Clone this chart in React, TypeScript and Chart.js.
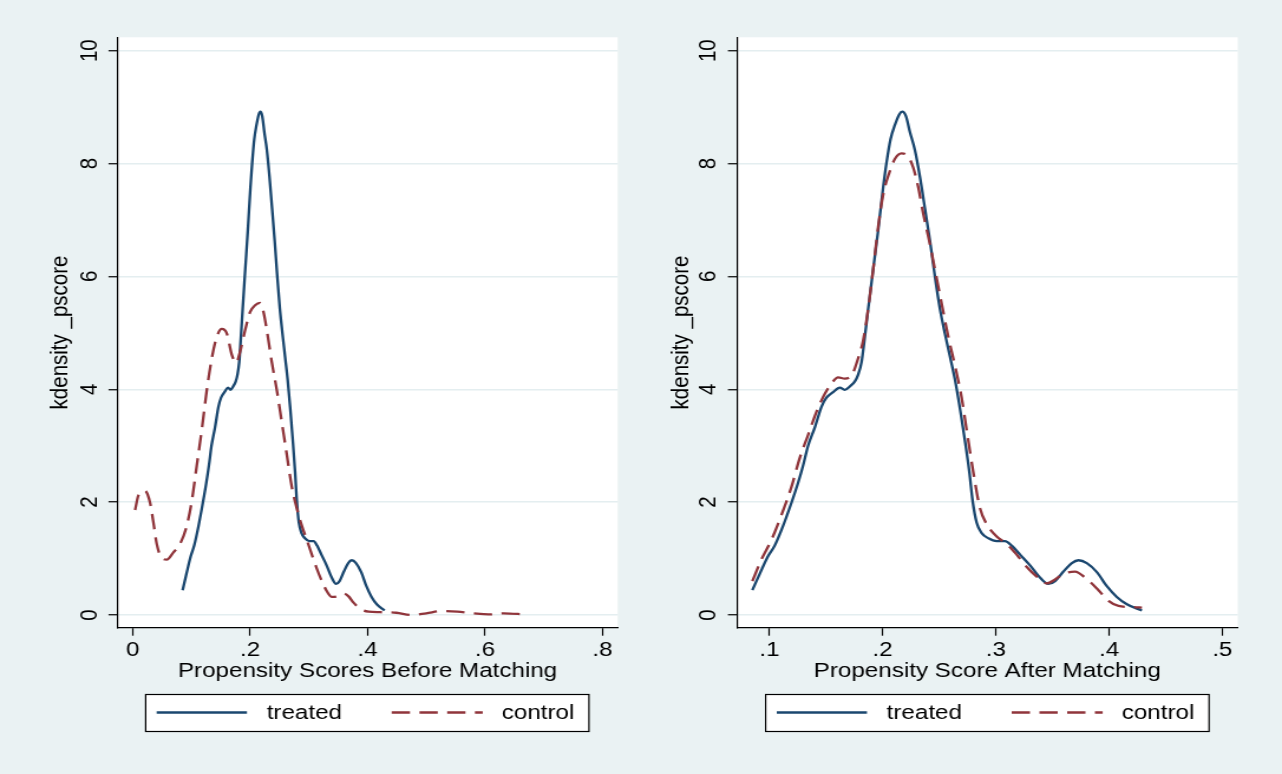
import React, { useEffect, useRef } from "react";
import { Chart, registerables } from "chart.js";

Chart.register(...registerables);

// ---------- data ----------
const seriesNames = ["treated", "control"];
const yTitle = "kdensity _pscore";
const beforeTitle = "Propensity Scores Before Matching";
const afterTitle = "Propensity Score After Matching";

const yTickValues = [0, 2, 4, 6, 8, 10];
const yTickLabels = ["0", "2", "4", "6", "8", "10"];
const beforeXTickValues = [0, 0.2, 0.4, 0.6, 0.8];
const beforeXTickLabels = ["0", ".2", ".4", ".6", ".8"];
const afterXTickValues = [0.1, 0.2, 0.3, 0.4, 0.5];
const afterXTickLabels = [".1", ".2", ".3", ".4", ".5"];

const treatedX = [
  0.085, 0.0915, 0.0988, 0.1047, 0.1121, 0.1195, 0.1253, 0.1298, 0.1342, 0.1401,
  0.146, 0.1504, 0.1563, 0.1622, 0.1666, 0.171, 0.1755, 0.1784, 0.1814, 0.1843,
  0.1873, 0.1917, 0.1961, 0.2005, 0.2035, 0.207, 0.2108, 0.2147, 0.2173, 0.2206,
  0.2241, 0.2285, 0.2329, 0.2374, 0.2418, 0.2462, 0.2506, 0.255, 0.2595, 0.2639,
  0.2683, 0.2727, 0.2766, 0.2795, 0.283, 0.2875, 0.2934, 0.3007, 0.3081, 0.314,
  0.3214, 0.3302, 0.3391, 0.3464, 0.3523, 0.3597, 0.3671, 0.373, 0.3803, 0.3892,
  0.398, 0.4068, 0.4157, 0.429,
];
const treatedY = [
  0.44, 0.73, 1.04, 1.23, 1.58, 1.99, 2.34, 2.65, 3.0, 3.32,
  3.69, 3.85, 3.95, 4.03, 3.99, 4.05, 4.14, 4.26, 4.48, 4.93,
  5.43, 6.13, 6.82, 7.58, 8.02, 8.43, 8.68, 8.87, 8.92, 8.84,
  8.56, 8.24, 7.77, 7.2, 6.63, 6.0, 5.43, 4.99, 4.58, 4.17,
  3.66, 3.09, 2.53, 2.02, 1.64, 1.45, 1.36, 1.31, 1.31, 1.23,
  1.07, 0.88, 0.66, 0.55, 0.6, 0.77, 0.92, 0.97, 0.92, 0.76,
  0.51, 0.32, 0.19, 0.08,
];

const controlBeforeX = [
  0.004, 0.0097, 0.021, 0.0295, 0.0352, 0.0409, 0.0494, 0.058, 0.0693, 0.0807,
  0.092, 0.1006, 0.1091, 0.1176, 0.1261, 0.1347, 0.1432, 0.1517, 0.1602, 0.1688,
  0.1761, 0.183, 0.1915, 0.2, 0.2085, 0.217, 0.2227, 0.2284, 0.2369, 0.2455,
  0.254, 0.2625, 0.271, 0.2795, 0.2881, 0.2966, 0.3051, 0.3136, 0.3222, 0.3307,
  0.3392, 0.3477, 0.3591, 0.3676, 0.3761, 0.3875, 0.4017, 0.4216, 0.449, 0.475,
  0.5, 0.527, 0.553, 0.58, 0.606, 0.632, 0.668,
];
const controlBeforeY = [
  1.86, 2.12, 2.2, 1.99, 1.64, 1.26, 1.01, 0.98, 1.11, 1.26,
  1.58, 2.02, 2.65, 3.28, 3.98, 4.55, 4.93, 5.07, 4.99, 4.61,
  4.47, 4.67, 5.05, 5.37, 5.49, 5.53, 5.37, 5.05, 4.48, 3.98,
  3.41, 2.84, 2.27, 1.89, 1.58, 1.33, 1.07, 0.82, 0.6, 0.42,
  0.32, 0.33, 0.38, 0.33, 0.22, 0.11, 0.06, 0.05, 0.04, 0.0,
  0.03, 0.07, 0.06, 0.03, 0.01, 0.03, 0.01,
];

const controlAfterX = [
  0.085, 0.0929, 0.1018, 0.1106, 0.1195, 0.1268, 0.1342, 0.1416, 0.149, 0.1563,
  0.1607, 0.1666, 0.1725, 0.1784, 0.1828, 0.1873, 0.1917, 0.1961, 0.2005, 0.2058,
  0.2108, 0.2167, 0.2226, 0.227, 0.2315, 0.2359, 0.2418, 0.2477, 0.2536, 0.258,
  0.2639, 0.2698, 0.2742, 0.2801, 0.286, 0.2919, 0.3007, 0.3096, 0.3184, 0.3273,
  0.3361, 0.345, 0.3523, 0.3597, 0.37, 0.3789, 0.3892, 0.3995, 0.4083, 0.4216,
  0.429,
];
const controlAfterY = [
  0.6, 0.98, 1.33, 1.77, 2.27, 2.78, 3.19, 3.6, 3.92, 4.14,
  4.21, 4.19, 4.24, 4.55, 4.86, 5.43, 6.13, 6.88, 7.45, 7.83,
  8.08, 8.18, 8.12, 7.93, 7.58, 7.11, 6.57, 5.97, 5.37, 4.93,
  4.42, 3.85, 3.28, 2.53, 1.89, 1.61, 1.39, 1.26, 1.07, 0.85,
  0.68, 0.56, 0.63, 0.73, 0.77, 0.66, 0.47, 0.25, 0.16, 0.14,
  0.13,
];

// ---------- styling / layout ----------
const BG = "#EAF2F3";
const GRID = "#E4EEF0";
const TREATED_COLOR = "#1A476F";
const CONTROL_COLOR = "#90353B";
const FONT = '"Liberation Sans", Arial, Helvetica, sans-serif';
const DASH = [15.5, 8];
const LINE_W = 2.3;

const CANVAS_W = 543; // internal width; shown stretched to 641 css px
const CANVAS_H = 774;
const CSS_W = 641;

const PLOT_TOP = 37.3;
const X_AXIS_H = 53.5;
const BOTTOM_PAD = 774 - 627.7 - X_AXIS_H;

Chart.defaults.font.family = FONT;

type PanelCfg = {
  xTitle: string;
  xMin: number;
  xMax: number;
  xTickValues: number[];
  xTickLabels: string[];
  controlX: number[];
  controlY: number[];
  padLeft: number;
  yAxisW: number;
  padRight: number;
  legend: {
    box: [number, number];
    solid: [number, number];
    treatedText: number;
    dashed: [number, number];
    controlText: number;
  };
};

const panels: PanelCfg[] = [
  {
    xTitle: beforeTitle,
    xMin: -0.0262,
    xMax: 0.8262,
    xTickValues: beforeXTickValues,
    xTickLabels: beforeXTickLabels,
    controlX: controlBeforeX,
    controlY: controlBeforeY,
    padLeft: 41.5,
    yAxisW: 57.9,
    padRight: 19.7,
    legend: {
      box: [123.4, 498.9],
      solid: [132.7, 209.2],
      treatedText: 225.9,
      dashed: [331.8, 408.9],
      controlText: 425,
    },
  },
  {
    xTitle: afterTitle,
    xMin: 0.0712,
    xMax: 0.5136,
    xTickValues: afterXTickValues,
    xTickLabels: afterXTickLabels,
    controlX: controlAfterX,
    controlY: controlAfterY,
    padLeft: 23.6,
    yAxisW: 57.5,
    padRight: 37.5,
    legend: {
      box: [105.6, 481.2],
      solid: [115, 191.4],
      treatedText: 208.1,
      dashed: [314, 391.1],
      controlText: 407.2,
    },
  },
];

function toPoints(xs: number[], ys: number[]) {
  return xs.map((x, i) => ({ x, y: ys[i] }));
}

function PanelChart({ cfg }: { cfg: PanelCfg }) {
  const ref = useRef<HTMLCanvasElement | null>(null);

  useEffect(() => {
    const canvas = ref.current;
    if (!canvas) return;

    const bgPlugin = {
      id: "bgPlugin",
      beforeDraw(chart: any) {
        const { ctx, chartArea } = chart;
        ctx.save();
        ctx.fillStyle = BG;
        ctx.fillRect(0, 0, chart.width, chart.height);
        ctx.fillStyle = "#FFFFFF";
        ctx.fillRect(
          chartArea.left,
          chartArea.top,
          chartArea.right - chartArea.left,
          chartArea.bottom - chartArea.top
        );
        ctx.restore();
      },
    };

    const legendPlugin = {
      id: "boxLegend",
      afterDraw(chart: any) {
        const { ctx } = chart;
        const L = cfg.legend;
        const top = 694;
        const h = 37;
        const cy = 712.5;
        ctx.save();
        ctx.fillStyle = "#FFFFFF";
        ctx.fillRect(L.box[0], top, L.box[1] - L.box[0], h);
        ctx.strokeStyle = "#000000";
        ctx.lineWidth = 1.2;
        ctx.setLineDash([]);
        ctx.strokeRect(L.box[0], top + 0.5, L.box[1] - L.box[0], h);

        ctx.lineWidth = LINE_W;
        ctx.strokeStyle = TREATED_COLOR;
        ctx.beginPath();
        ctx.moveTo(L.solid[0], cy);
        ctx.lineTo(L.solid[1], cy);
        ctx.stroke();

        ctx.strokeStyle = CONTROL_COLOR;
        ctx.setLineDash(DASH);
        ctx.beginPath();
        ctx.moveTo(L.dashed[0], cy);
        ctx.lineTo(L.dashed[1], cy);
        ctx.stroke();
        ctx.setLineDash([]);

        ctx.fillStyle = "#000000";
        ctx.font = `20.5px ${FONT}`;
        ctx.textBaseline = "middle";
        ctx.textAlign = "left";
        const names = chart.data.datasets.map((d: any) => d.label);
        ctx.fillText(names[0], L.treatedText, 713);
        ctx.fillText(names[1], L.controlText, 713);
        ctx.restore();
      },
    };

    const chart = new Chart(canvas, {
      type: "line",
      data: {
        datasets: [
          {
            label: seriesNames[0],
            data: toPoints(treatedX, treatedY),
            borderColor: TREATED_COLOR,
            borderWidth: LINE_W,
            pointRadius: 0,
            fill: false,
            cubicInterpolationMode: "monotone",
            order: 1,
          },
          {
            label: seriesNames[1],
            data: toPoints(cfg.controlX, cfg.controlY),
            borderColor: CONTROL_COLOR,
            borderWidth: LINE_W,
            borderDash: DASH,
            pointRadius: 0,
            fill: false,
            cubicInterpolationMode: "monotone",
            order: 0,
          },
        ],
      },
      options: {
        animation: false,
        responsive: false,
        devicePixelRatio: 1,
        parsing: false as any,
        events: [],
        layout: {
          padding: {
            left: cfg.padLeft,
            right: cfg.padRight,
            top: PLOT_TOP,
            bottom: BOTTOM_PAD,
          },
        },
        plugins: {
          legend: { display: false },
          tooltip: { enabled: false },
          title: { display: false },
        },
        scales: {
          x: {
            type: "linear",
            min: cfg.xMin,
            max: cfg.xMax,
            afterBuildTicks: (s: any) => {
              s.ticks = cfg.xTickValues.map((v) => ({ value: v }));
            },
            afterFit: (s: any) => {
              s.height = X_AXIS_H;
            },
            ticks: {
              autoSkip: false,
              maxRotation: 0,
              minRotation: 0,
              padding: 2.5,
              color: "#000000",
              font: { size: 20.5, family: FONT },
              callback: (v: any) => {
                const i = cfg.xTickValues.indexOf(Number(v));
                return i >= 0 ? cfg.xTickLabels[i] : "";
              },
            },
            grid: {
              drawOnChartArea: false,
              drawTicks: true,
              tickLength: 8,
              tickColor: "#000000",
              tickWidth: 1.2,
            },
            border: { display: true, color: "#000000", width: 1.2 },
            title: {
              display: true,
              text: cfg.xTitle,
              color: "#000000",
              font: { size: 20.5, family: FONT, lineHeight: 1 },
              padding: 0,
            },
          },
          y: {
            type: "linear",
            min: -0.225,
            max: 10.237,
            afterBuildTicks: (s: any) => {
              s.ticks = yTickValues.map((v) => ({ value: v }));
            },
            afterFit: (s: any) => {
              s.width = cfg.yAxisW;
            },
            ticks: {
              autoSkip: false,
              minRotation: 90,
              maxRotation: 90,
              crossAlign: "center",
              padding: 4.5,
              color: "#000000",
              font: { size: 20.5, family: FONT },
              callback: (v: any) => {
                const i = yTickValues.indexOf(Number(v));
                return i >= 0 ? yTickLabels[i] : "";
              },
            },
            grid: {
              color: GRID,
              lineWidth: 1.5,
              drawOnChartArea: true,
              drawTicks: true,
              tickLength: 7.5,
              tickColor: "#000000",
              tickWidth: 1.2,
            },
            border: { display: true, color: "#000000", width: 1.2 },
            title: {
              display: true,
              text: yTitle,
              color: "#000000",
              font: { size: 20.5, family: FONT, lineHeight: 1 },
              padding: 0,
            },
          },
        },
      } as any,
      plugins: [bgPlugin, legendPlugin],
    });

    return () => {
      chart.destroy();
    };
  }, [cfg]);

  return (
    <canvas
      ref={ref}
      width={CANVAS_W}
      height={CANVAS_H}
      style={{ width: `${CSS_W}px`, height: `${CANVAS_H}px`, display: "block" }}
    />
  );
}

export default function App() {
  useEffect(() => {
    document.body.style.margin = "0";
    document.body.style.background = BG;
  }, []);
  return (
    <div
      style={{
        width: 1282,
        height: 774,
        display: "flex",
        flexDirection: "row",
        background: BG,
        overflow: "hidden",
      }}
    >
      {panels.map((p, i) => (
        <PanelChart key={i} cfg={p} />
      ))}
    </div>
  );
}
